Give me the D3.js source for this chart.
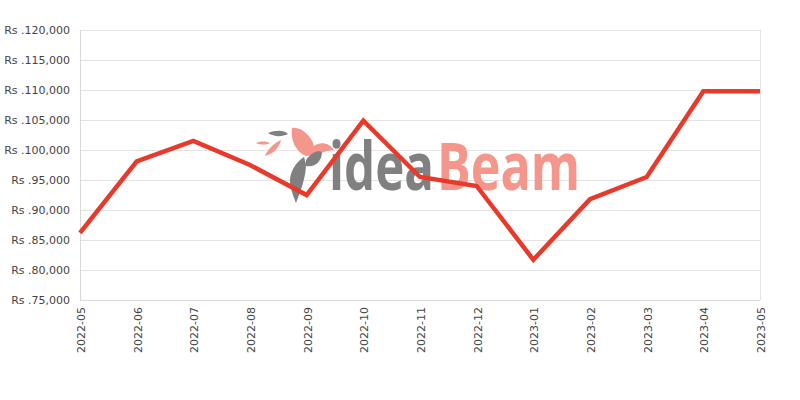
<!DOCTYPE html>
<html><head><meta charset="utf-8">
<script src="https://cdn.jsdelivr.net/npm/d3@7"></script>
<style>body{margin:0;background:#fff}svg{display:block}</style>
</head><body>
<svg id="c" width="800" height="400"></svg>
<script>
const months = ["2022-05","2022-06","2022-07","2022-08","2022-09","2022-10","2022-11","2022-12","2023-01","2023-02","2023-03","2023-04","2023-05"];
const prices = [86200,98100,101500,97500,92500,104900,95500,94000,81700,91800,95500,109800,109800];
const yTicks = [75000,80000,85000,90000,95000,100000,105000,110000,115000,120000];

const svg = d3.select("#c");
const m = {l:80, r:40, t:30, b:100};
const W = 800, H = 400;
const x = d3.scalePoint().domain(months).range([m.l, W-m.r]);
const y = d3.scaleLinear().domain([75000,120000]).range([H-m.b, m.t]);
const font = "DejaVu Sans, Verdana, sans-serif";

// grid
svg.append("g").selectAll("line").data(yTicks).join("line")
  .attr("x1", m.l).attr("x2", W-m.r).attr("y1", d=>y(d)).attr("y2", d=>y(d))
  .attr("stroke", "#e3e3e3").attr("stroke-width", 1).attr("shape-rendering","crispEdges");
svg.append("line").attr("x1", W-m.r).attr("x2", W-m.r).attr("y1", m.t).attr("y2", H-m.b)
  .attr("stroke","#e3e3e3").attr("shape-rendering","crispEdges");

// watermark
const wm = svg.append("g");
function wmText(str, x0, width, fill) {
  const g = wm.append("g");
  const t = g.append("text").attr("x", 0).attr("y", 0)
    .attr("font-family", "Open Sans, DejaVu Sans, sans-serif")
    .attr("font-size", 66).attr("font-weight", 700).attr("fill", fill).text(str);
  const w = t.node().getComputedTextLength();
  g.attr("transform", `translate(${x0},190) scale(${width / w},1)`);
}
wmText("idea", 329, 105, "#808080");
wmText("Beam", 437, 143, "#f4968b");
// simple bird / feather shapes
wm.append("path").attr("d","M292,128 C300,126 312,136 314,146 C320,142 328,142 334,150 C324,150 318,156 306,156 C296,152 290,140 292,128 Z").attr("fill","#f4968b");
wm.append("path").attr("d","M268,133 C276,130 284,130 288,134 C282,137 274,137 268,133 Z").attr("fill","#808080");
wm.append("path").attr("d","M256,143 C260,141 266,141 270,143 C266,145 260,145 256,143 Z").attr("fill","#f4968b");
wm.append("path").attr("d","M265,156 C268,148 276,142 281,140 C279,148 273,154 265,156 Z").attr("fill","#f4968b");
wm.append("path").attr("d","M304,157 C296,162 289,172 290,184 C292,194 295,200 296,203 C300,192 306,178 306,164 Z").attr("fill","#808080");
wm.append("path").attr("d","M306,160 C312,152 318,150 322,152 C322,160 316,168 306,166 Z").attr("fill","#808080");

// y labels
svg.append("g").selectAll("text").data(yTicks).join("text")
  .attr("x", 70).attr("y", d=>y(d)).attr("dy","0.35em").attr("text-anchor","end")
  .attr("font-family", font).attr("font-size", 11).attr("fill","#444")
  .text(d=>"Rs ." + d3.format(",")(d));

// axis lines
svg.append("line").attr("x1", m.l).attr("x2", m.l).attr("y1", m.t).attr("y2", H-m.b)
  .attr("stroke","#d8d8d8").attr("shape-rendering","crispEdges");
svg.append("line").attr("x1", m.l).attr("x2", W-m.r).attr("y1", H-m.b).attr("y2", H-m.b)
  .attr("stroke","#d8d8d8").attr("shape-rendering","crispEdges");

// x labels
svg.append("g").selectAll("text").data(months).join("text")
  .attr("transform", d=>`translate(${x(d)+5},${H-m.b+7}) rotate(-90)`)
  .attr("text-anchor","end")
  .attr("font-family", font).attr("font-size", 11).attr("fill","#444")
  .text(d=>d);

// line
const line = d3.line().x((d,i)=>x(months[i])).y(d=>y(d));
svg.append("path").datum(prices).attr("d", line)
  .attr("fill","none").attr("stroke","#e8392b").attr("stroke-width",4.5).attr("stroke-linejoin","miter");
</script>
</body></html>
